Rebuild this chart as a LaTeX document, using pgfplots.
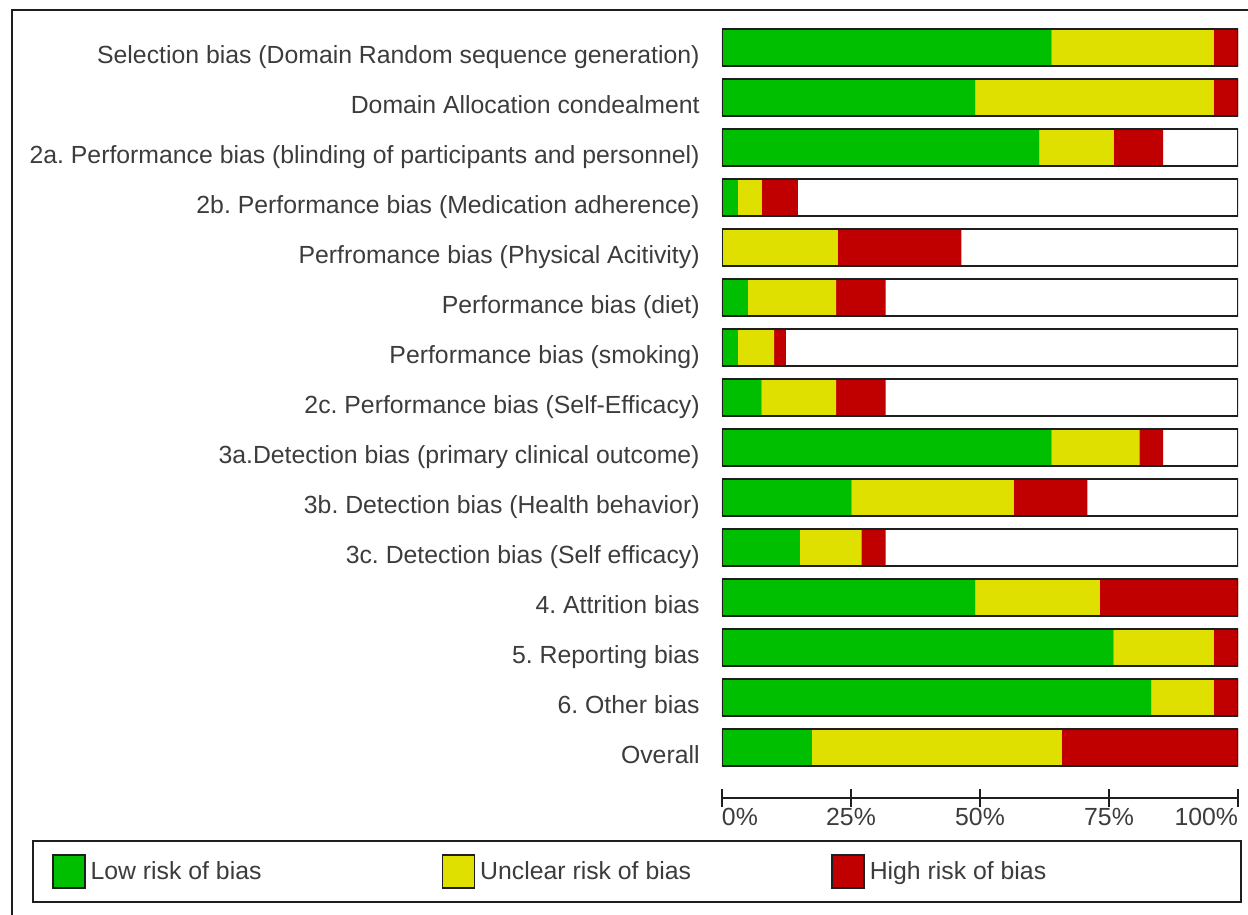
\documentclass[border=0pt]{standalone}
\usepackage{pgfplots}
\usepackage{pgfplotstable}
\pgfplotsset{compat=1.18}
\usepackage{fontspec}
\setmainfont{Liberation Sans}
\frenchspacing
\definecolor{lowc}{RGB}{0,191,0}
\definecolor{uncc}{RGB}{224,224,0}
\definecolor{highc}{RGB}{192,0,0}
\definecolor{txt}{RGB}{60,60,60}
\definecolor{frm}{RGB}{30,30,30}

\pgfplotstableread{
y  low   unclear high
15 63.9  31.4   4.7
14 49.1  46.2   4.7
13 61.5  14.4   9.6
12 3.1   4.6    7.0
11 0.0   22.4   24.0
10 5.0   17.1   9.6
9  3.1   7.0    2.3
8  7.7   14.4   9.6
7  63.9  17.0   4.6
6  25.1  31.4   14.3
5  15.1  11.9   4.7
4  49.1  24.1   26.8
3  75.9  19.4   4.7
2  83.2  12.1   4.7
1  17.4  48.4   34.2
}\riskdata

\begin{document}
\begin{tikzpicture}[x=1pt,y=1pt]
\path[use as bounding box] (0,0) rectangle (624,457.5);
\draw[line width=1pt, frm] (6,-2) -- (6,452.5) -- (626,452.5);
\begin{axis}[
  at={(361pt,58.5pt)}, anchor=south west,
  scale only axis, width=258pt, height=387.5pt,
  xmin=0, xmax=100, ymin=0, ymax=15.5,
  xbar stacked, bar width=18.5pt,
  axis x line*=bottom, axis y line*=left,
  y axis line style={draw=none},
  x axis line style={line width=1pt, frm, -},
  xtick={0,25,50,75,100},
  xticklabels={\makebox[0pt][l]{0\%},25\%,50\%,75\%,\makebox[0pt][r]{100\%}},
  xtick align=center, major tick length=9pt,
  xtick style={line width=1pt, frm},
  xticklabel style={font=\fontsize{12.4}{14}\selectfont, text=txt, inner sep=0pt, anchor=north, yshift=-0.5pt},
  ytick={1,...,15},
  yticklabels={{Overall},{6. Other bias},{5. Reporting bias},{4. Attrition bias},{3c. Detection bias (Self efficacy)},{3b. Detection bias (Health behavior)},{3a.Detection bias (primary clinical outcome)},{2c. Performance bias (Self-Efficacy)},{Performance bias (smoking)},{Performance bias (diet)},{Perfromance bias (Physical Acitivity)},{2b. Performance bias (Medication adherence)},{2a. Performance bias (blinding of participants and personnel)},{Domain Allocation condealment},{Selection bias (Domain Random sequence generation)}},
  ytick style={draw=none},
  yticklabel style={font=\fontsize{12.4}{14}\selectfont, text=txt, anchor=base east, inner sep=0pt, xshift=-11pt, yshift=-7.8pt},
  legend columns=3,
  legend cell align=left,
  legend style={at={(-1.3372,-0.0542)}, anchor=north west, draw=frm, line width=1pt,
    inner xsep=9.5pt, inner ysep=6.7pt, column sep=0pt,
    font=\fontsize{12.4}{14}\selectfont, text=txt, nodes={inner sep=0pt}},
  legend image code/.code={\draw[#1, draw=frm, line width=0.8pt] (0pt,-8.25pt) rectangle (16pt,8.25pt);},
]
\addplot[fill=lowc, draw=none] table[x=low, y=y] {\riskdata};
\addlegendentry{\hspace{2.5pt}\makebox[175.5pt][l]{Low risk of bias}}
\addplot[fill=uncc, draw=none] table[x=unclear, y=y] {\riskdata};
\addlegendentry{\hspace{2.5pt}\makebox[175.5pt][l]{Unclear risk of bias}}
\addplot[fill=highc, draw=none] table[x=high, y=y] {\riskdata};
\addlegendentry{\hspace{2.5pt}\makebox[176pt][l]{High risk of bias}}
\end{axis}
\begin{axis}[
  at={(361pt,58.5pt)}, anchor=south west,
  scale only axis, width=258pt, height=387.5pt,
  xmin=0, xmax=100, ymin=0, ymax=15.5,
  xbar, bar width=18.5pt, hide axis,
]
\addplot[fill=none, draw=frm, line width=1pt] coordinates {
(100,1) (100,2) (100,3) (100,4) (100,5) (100,6) (100,7) (100,8)
(100,9) (100,10) (100,11) (100,12) (100,13) (100,14) (100,15)};
\end{axis}
\end{tikzpicture}
\end{document}
